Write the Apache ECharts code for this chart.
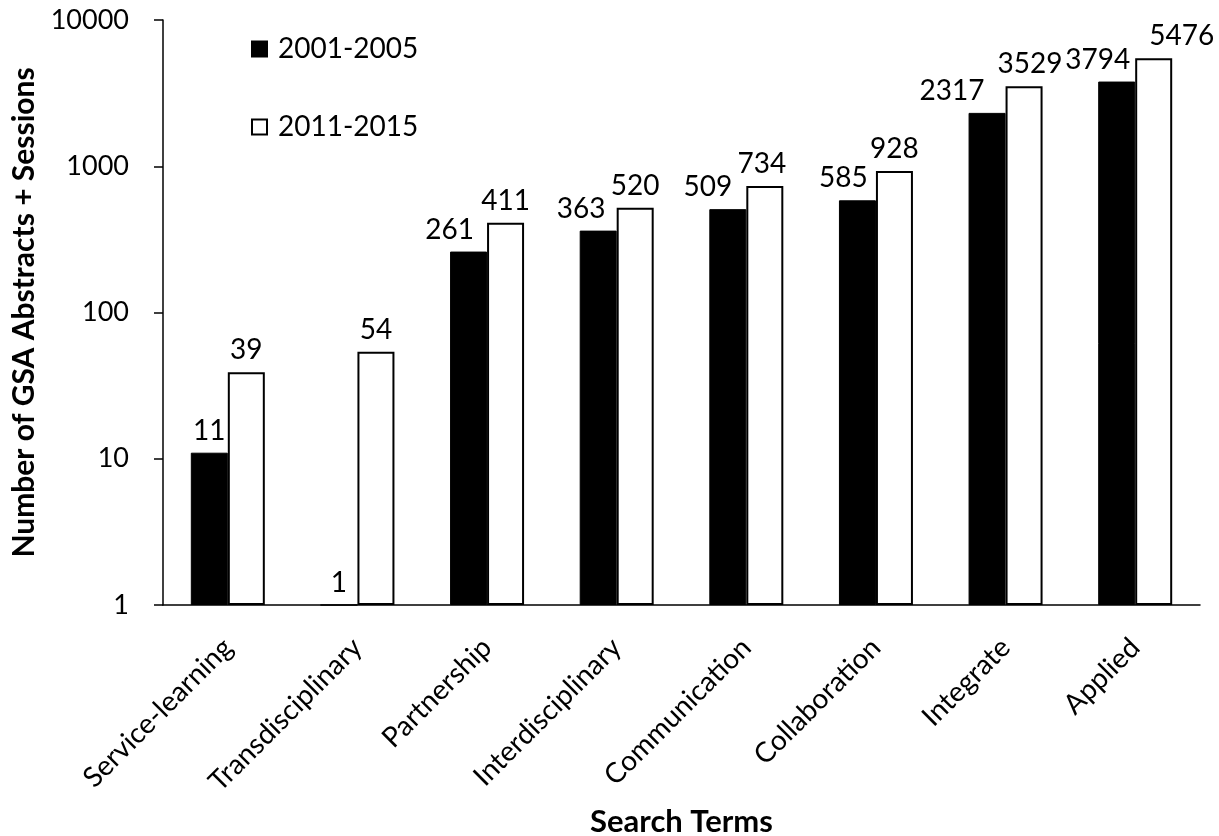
<!DOCTYPE html>
<html>
<head>
<meta charset="utf-8">
<script src="https://cdn.jsdelivr.net/npm/echarts@6/dist/echarts.min.js"></script>
<style>
html,body{margin:0;padding:0;background:#fff;}
#chart{width:1219px;height:836px;}
</style>
</head>
<body>
<div id="chart"></div>
<script>
// ---- data ----
const categories = ['Service-learning','Transdisciplinary','Partnership','Interdisciplinary','Communication','Collaboration','Integrate','Applied'];
const series2001 = [11, 1, 261, 363, 509, 585, 2317, 3794];
const series2011 = [39, 54, 411, 520, 734, 928, 3529, 5476];
const seriesNames = ['2001-2005', '2011-2015'];
const yTicks = [1, 10, 100, 1000, 10000];

// ---- layout (label horizontal shifts, as in the reference) ----
const shiftA = [0, 0, -19, -17, -20, -14, -35, -19];
const shiftB = [0, 0, 0, 0, -3, 0, 6, 28];

const FONT = 'Lato';
const chart = echarts.init(document.getElementById('chart'));

const labelBase = {
  show: true, position: 'top', distance: 8,
  color: '#000', fontFamily: FONT, fontSize: 28
};

chart.setOption({
  animation: false,
  backgroundColor: '#fff',
  textStyle: { fontFamily: FONT },
  grid: { left: 163, right: 19, top: 20, bottom: 231, containLabel: false, outerBoundsMode: 'none' },
  legend: {
    orient: 'vertical', left: 246, top: 30, itemGap: 50,
    itemWidth: 15, itemHeight: 15, icon: 'rect',
    textStyle: { fontFamily: FONT, fontSize: 28, color: '#000', padding: [0, 0, 0, 6] },
    data: seriesNames
  },
  xAxis: {
    type: 'category', data: categories,
    axisLine: { lineStyle: { color: '#000', width: 1.5 } },
    axisTick: { show: false },
    axisLabel: { rotate: 45, interval: 0, margin: 38, color: '#000', fontFamily: FONT, fontSize: 28 },
    name: 'Search Terms', nameLocation: 'middle', nameGap: 201,
    nameTextStyle: { fontFamily: FONT, fontWeight: 'bold', fontSize: 31, color: '#000' }
  },
  yAxis: {
    type: 'log', logBase: 10, min: 1, max: 10000,
    axisLine: { show: true, lineStyle: { color: '#000', width: 1.5 } },
    axisTick: { show: true, inside: false, length: 9, lineStyle: { color: '#000', width: 1.5 } },
    splitLine: { show: false },
    axisLabel: {
      margin: 34, color: '#000', fontFamily: FONT, fontSize: 27,
      formatter: v => (yTicks.indexOf(Math.round(v)) >= 0 ? String(Math.round(v)) : '')
    },
    name: 'Number of GSA Abstracts + Sessions', nameLocation: 'middle', nameGap: 116, nameRotate: 90,
    nameTextStyle: { fontFamily: FONT, fontWeight: 'bold', fontSize: 30, color: '#000' }
  },
  series: [
    {
      name: seriesNames[0], type: 'bar', barWidth: 37, barGap: '0%',
      itemStyle: { color: '#000', borderColor: '#000', borderWidth: 1 },
      label: labelBase,
      data: series2001.map((v, i) => ({ value: v, label: { offset: [shiftA[i], 0] } }))
    },
    {
      name: seriesNames[1], type: 'bar', barWidth: 37, barGap: '0%',
      itemStyle: { color: '#fff', borderColor: '#000', borderWidth: 2 },
      label: labelBase,
      data: series2011.map((v, i) => ({ value: v, label: { offset: [shiftB[i], 0] } }))
    }
  ]
});
</script>
</body>
</html>
